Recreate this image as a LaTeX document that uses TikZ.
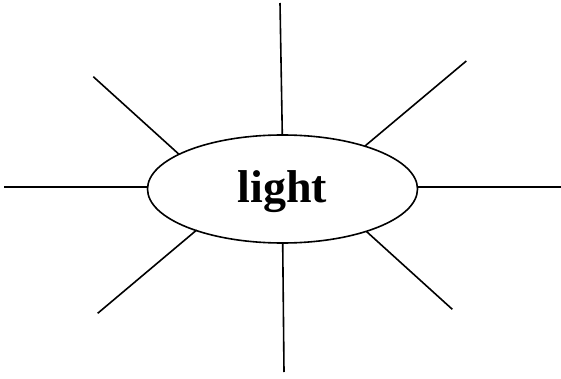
\documentclass[tikz,border=0pt]{standalone}
\usepackage{fontspec}
\setmainfont{Liberation Serif}
\usetikzlibrary{shapes.geometric}
\begin{document}
\begin{tikzpicture}[x=1pt,y=-1pt,
  ray/.style={line width=1.6pt, line cap=butt},
  hub/.style={ellipse, draw, line width=1.6pt, minimum width=270pt, minimum height=108pt, inner sep=0pt},
  word/.style={font=\fontsize{46}{52}\selectfont\bfseries, inner sep=0pt}]
\useasboundingbox (0,0) rectangle (561,379);
\node[hub] (e) at (282.5,189) {};
\node[word] (w) at (282.5,191.5) {light};
% free ends
\coordinate (t) at (280,3);
\coordinate (tr) at (466.3,61);
\coordinate (r) at (561,187);
\coordinate (br) at (452.3,309.3);
\coordinate (b) at (284,372);
\coordinate (bl) at (97.7,313.3);
\coordinate (l) at (4,187);
\coordinate (tl) at (93.3,76.7);
% contact points on the ellipse
\coordinate (et) at (282.3,135);
\coordinate (etr) at (365,146);
\coordinate (er) at (417.5,187);
\coordinate (ebr) at (366.7,231.7);
\coordinate (eb) at (282.7,243);
\coordinate (ebl) at (196.7,230);
\coordinate (el) at (147.5,187);
\coordinate (etl) at (179,154.3);
\draw[ray] (t) -- (et);
\draw[ray] (tr) -- (etr);
\draw[ray] (r) -- (er);
\draw[ray] (br) -- (ebr);
\draw[ray] (b) -- (eb);
\draw[ray] (bl) -- (ebl);
\draw[ray] (l) -- (el);
\draw[ray] (tl) -- (etl);
\end{tikzpicture}
\end{document}
